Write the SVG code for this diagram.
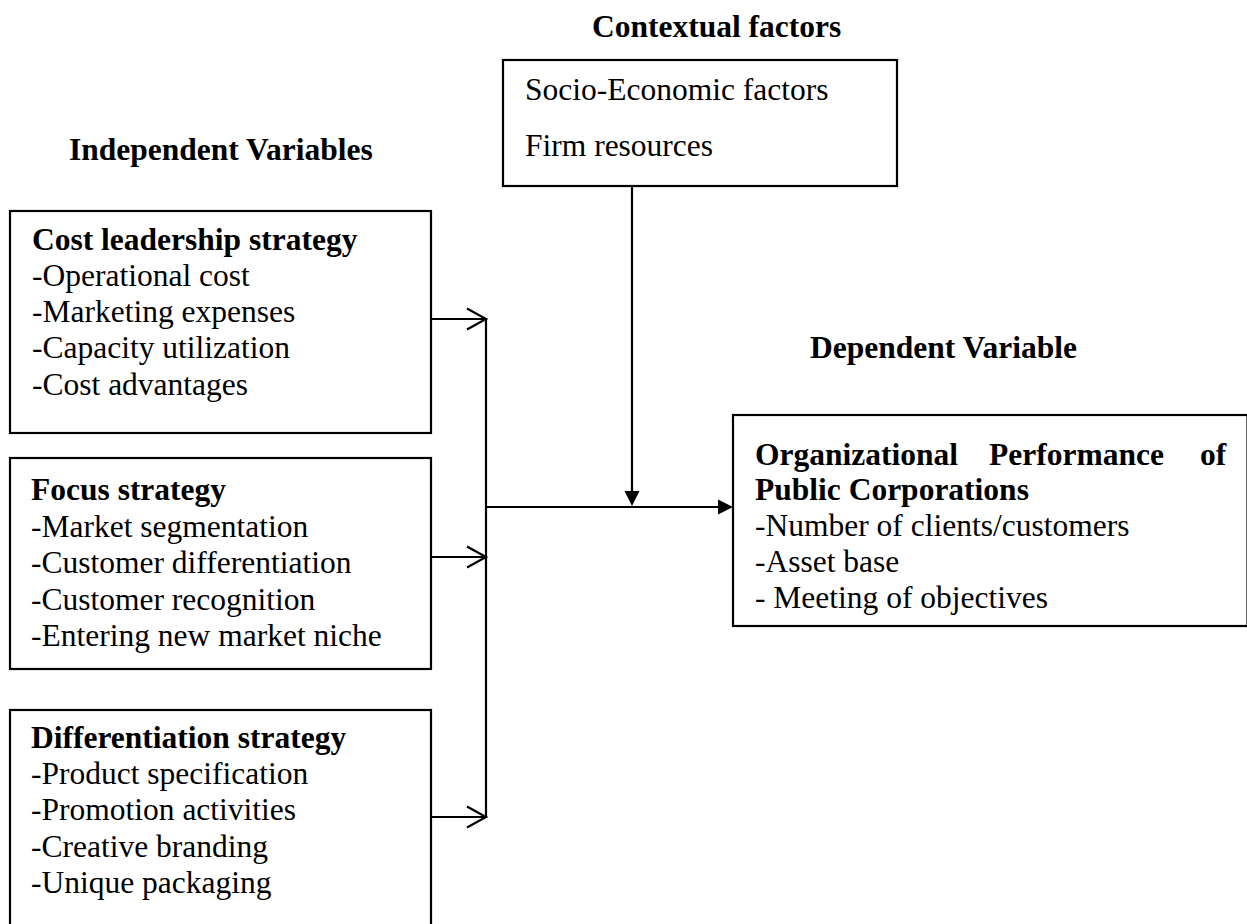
<svg xmlns="http://www.w3.org/2000/svg" width="1247" height="924" viewBox="0 0 1247 924">
  <style>
    text { font-family: "Liberation Serif", "Times New Roman", serif; font-size: 31.5px; fill: #000; }
    .b { font-weight: bold; }
    .box { fill: #fff; stroke: #000; stroke-width: 2.2; }
    .ln { fill: none; stroke: #000; stroke-width: 2.2; }
    .open { fill: none; stroke: #000; stroke-width: 2.2; stroke-linecap: butt; stroke-linejoin: miter; }
    .solid { fill: #000; stroke: none; }
  </style>
  <rect width="1247" height="924" fill="#fff"/>

  <!-- section headings -->
  <g id="headings">
    <text class="b" x="592" y="37">Contextual factors</text>
    <text class="b" x="69" y="160">Independent Variables</text>
    <text class="b" x="810" y="358">Dependent Variable</text>
  </g>

  <!-- moderating factors -->
  <g id="contextual">
    <rect class="box" x="503" y="60" width="394" height="126"/>
    <text x="525" y="100">Socio-Economic factors</text>
    <text x="525" y="156">Firm resources</text>
  </g>

  <g id="cost-leadership">
    <rect class="box" x="10" y="211" width="421" height="222"/>
    <text class="b" x="32" y="250">Cost leadership strategy</text>
    <text x="32" y="286">-Operational cost</text>
    <text x="32" y="322">-Marketing expenses</text>
    <text x="32" y="358">-Capacity utilization</text>
    <text x="32" y="395">-Cost advantages</text>
  </g>

  <g id="focus">
    <rect class="box" x="10" y="458" width="421" height="211"/>
    <text class="b" x="31" y="500">Focus strategy</text>
    <text x="31" y="537">-Market segmentation</text>
    <text x="31" y="573">-Customer differentiation</text>
    <text x="31" y="610">-Customer recognition</text>
    <text x="31" y="646">-Entering new market niche</text>
  </g>

  <g id="differentiation">
    <rect class="box" x="10" y="710" width="421" height="225"/>
    <text class="b" x="31" y="748">Differentiation strategy</text>
    <text x="31" y="784">-Product specification</text>
    <text x="31" y="820">-Promotion activities</text>
    <text x="31" y="857">-Creative branding</text>
    <text x="31" y="893">-Unique packaging</text>
  </g>

  <!-- right border sits on the page edge -->
  <g id="performance">
    <rect class="box" x="733" y="415" width="514.5" height="211"/>
    <text class="b" x="755" y="465">Organizational</text>
    <text class="b" x="989" y="465">Performance</text>
    <text class="b" x="1200" y="465">of</text>
    <text class="b" x="755" y="500">Public Corporations</text>
    <text x="755" y="536">-Number of clients/customers</text>
    <text x="755" y="572">-Asset base</text>
    <text x="755" y="608">- Meeting of objectives</text>
  </g>

  <!-- connectors -->
  <g id="connectors">
    <!-- feeds from each strategy box -->
    <line class="ln" x1="431" y1="319" x2="485" y2="319"/>
    <line class="ln" x1="431" y1="557" x2="485" y2="557"/>
    <line class="ln" x1="431" y1="817" x2="485" y2="817"/>
    <polyline class="open" points="467,308.5 486,319 467,329.5"/>
    <polyline class="open" points="467,546.5 486,557 467,567.5"/>
    <polyline class="open" points="467,806.5 486,817 467,827.5"/>
    <!-- collector bus -->
    <line class="ln" x1="486" y1="318" x2="486" y2="818"/>
    <!-- main link to performance -->
    <line class="ln" x1="486" y1="507" x2="720" y2="507"/>
    <polygon class="solid" points="718,499.5 733,507 718,514.5"/>
    <!-- contextual influence -->
    <line class="ln" x1="632" y1="186" x2="632" y2="492"/>
    <polygon class="solid" points="624.5,491 639.5,491 632,506"/>
  </g>
</svg>
